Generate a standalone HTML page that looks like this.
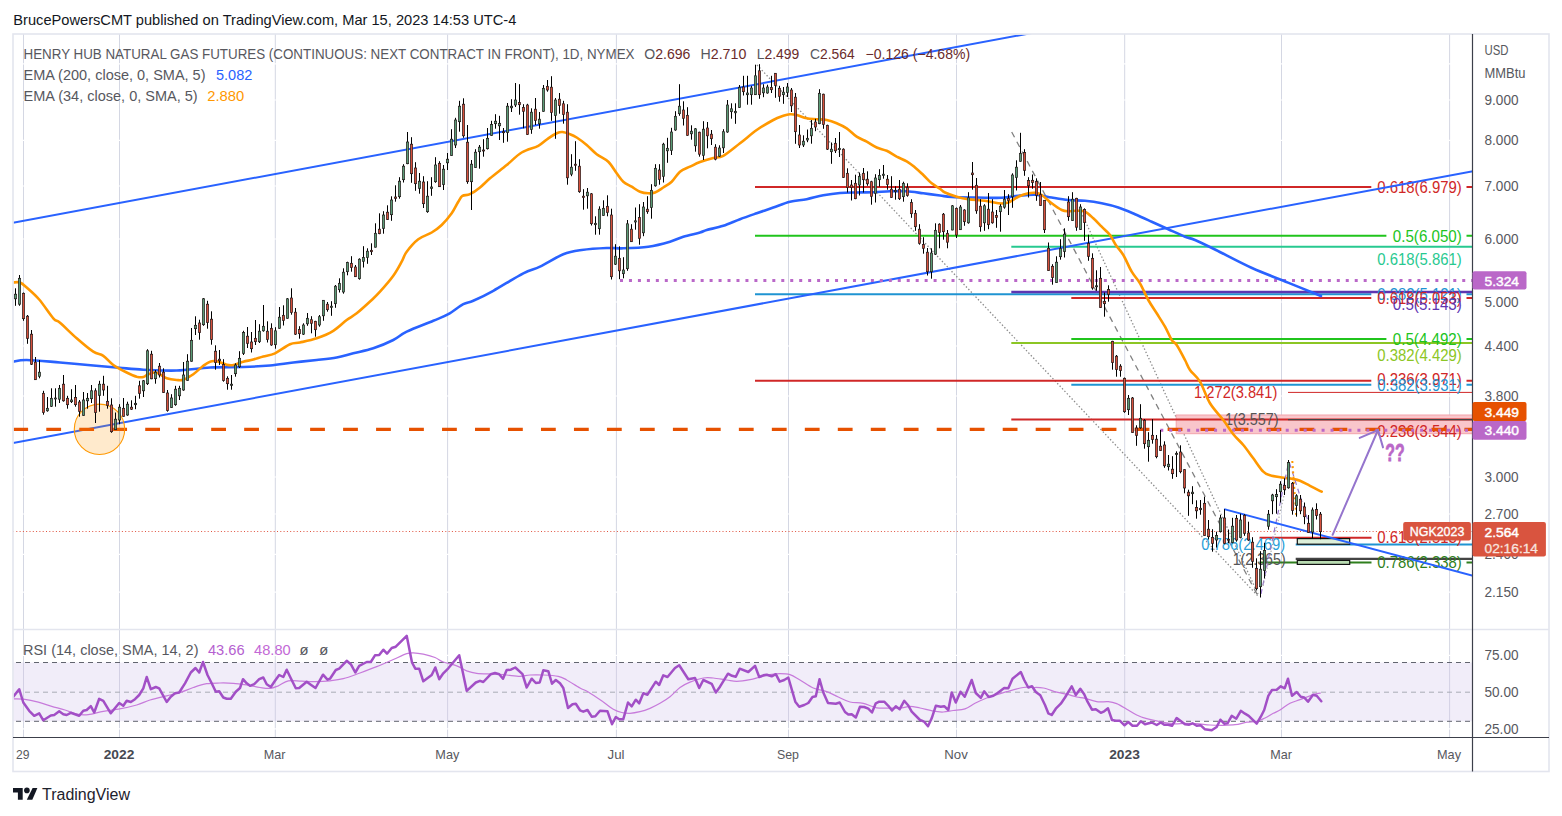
<!DOCTYPE html><html><head><meta charset="utf-8"><title>chart</title>
<style>html,body{margin:0;padding:0;background:#fff;}body{width:1562px;height:816px;overflow:hidden;font-family:"Liberation Sans", sans-serif;}svg{display:block;font-family:"Liberation Sans", sans-serif;}</style></head><body>
<svg width="1562" height="816" viewBox="0 0 1562 816">
<rect x="0" y="0" width="1562" height="816" fill="#ffffff"/>
<defs><clipPath id="main"><rect x="13.5" y="34.5" width="1459.0" height="595.0"/></clipPath>
<clipPath id="rsi"><rect x="13.5" y="630.0" width="1459.0" height="107.5"/></clipPath></defs>
<line x1="23.5" y1="34.0" x2="23.5" y2="737.5" stroke="#d4d7e3" stroke-width="1"/>
<line x1="119.5" y1="34.0" x2="119.5" y2="737.5" stroke="#d4d7e3" stroke-width="1"/>
<line x1="275.3" y1="34.0" x2="275.3" y2="737.5" stroke="#d4d7e3" stroke-width="1"/>
<line x1="447.6" y1="34.0" x2="447.6" y2="737.5" stroke="#d4d7e3" stroke-width="1"/>
<line x1="616.4" y1="34.0" x2="616.4" y2="737.5" stroke="#d4d7e3" stroke-width="1"/>
<line x1="788.5" y1="34.0" x2="788.5" y2="737.5" stroke="#d4d7e3" stroke-width="1"/>
<line x1="956.5" y1="34.0" x2="956.5" y2="737.5" stroke="#d4d7e3" stroke-width="1"/>
<line x1="1124.7" y1="34.0" x2="1124.7" y2="737.5" stroke="#d4d7e3" stroke-width="1"/>
<line x1="1281.5" y1="34.0" x2="1281.5" y2="737.5" stroke="#d4d7e3" stroke-width="1"/>
<line x1="1449.6" y1="34.0" x2="1449.6" y2="737.5" stroke="#d4d7e3" stroke-width="1"/>
<line x1="14.0" y1="63.8" x2="1472.5" y2="63.8" stroke="#ffffff" stroke-width="1.2"/>
<line x1="14.0" y1="100.0" x2="1472.5" y2="100.0" stroke="#ffffff" stroke-width="1.2"/>
<line x1="14.0" y1="140.3" x2="1472.5" y2="140.3" stroke="#ffffff" stroke-width="1.2"/>
<line x1="14.0" y1="186.0" x2="1472.5" y2="186.0" stroke="#ffffff" stroke-width="1.2"/>
<line x1="14.0" y1="239.0" x2="1472.5" y2="239.0" stroke="#ffffff" stroke-width="1.2"/>
<line x1="14.0" y1="302.0" x2="1472.5" y2="302.0" stroke="#ffffff" stroke-width="1.2"/>
<line x1="14.0" y1="346.0" x2="1472.5" y2="346.0" stroke="#ffffff" stroke-width="1.2"/>
<line x1="14.0" y1="396.0" x2="1472.5" y2="396.0" stroke="#ffffff" stroke-width="1.2"/>
<line x1="14.0" y1="477.0" x2="1472.5" y2="477.0" stroke="#ffffff" stroke-width="1.2"/>
<line x1="14.0" y1="514.0" x2="1472.5" y2="514.0" stroke="#ffffff" stroke-width="1.2"/>
<line x1="14.0" y1="554.4" x2="1472.5" y2="554.4" stroke="#ffffff" stroke-width="1.2"/>
<line x1="14.0" y1="592.2" x2="1472.5" y2="592.2" stroke="#ffffff" stroke-width="1.2"/>
<line x1="14.0" y1="655.3" x2="1472.5" y2="655.3" stroke="#ffffff" stroke-width="1.2"/>
<line x1="14.0" y1="728.9" x2="1472.5" y2="728.9" stroke="#ffffff" stroke-width="1.2"/>
<rect x="13.5" y="662.5" width="1459.0" height="58.8" fill="#f1edf9"/>
<line x1="23.5" y1="662.5" x2="23.5" y2="721.3" stroke="#d3d0e4" stroke-width="1"/>
<line x1="119.5" y1="662.5" x2="119.5" y2="721.3" stroke="#d3d0e4" stroke-width="1"/>
<line x1="275.3" y1="662.5" x2="275.3" y2="721.3" stroke="#d3d0e4" stroke-width="1"/>
<line x1="447.6" y1="662.5" x2="447.6" y2="721.3" stroke="#d3d0e4" stroke-width="1"/>
<line x1="616.4" y1="662.5" x2="616.4" y2="721.3" stroke="#d3d0e4" stroke-width="1"/>
<line x1="788.5" y1="662.5" x2="788.5" y2="721.3" stroke="#d3d0e4" stroke-width="1"/>
<line x1="956.5" y1="662.5" x2="956.5" y2="721.3" stroke="#d3d0e4" stroke-width="1"/>
<line x1="1124.7" y1="662.5" x2="1124.7" y2="721.3" stroke="#d3d0e4" stroke-width="1"/>
<line x1="1281.5" y1="662.5" x2="1281.5" y2="721.3" stroke="#d3d0e4" stroke-width="1"/>
<line x1="1449.6" y1="662.5" x2="1449.6" y2="721.3" stroke="#d3d0e4" stroke-width="1"/>
<line x1="16.0" y1="662.5" x2="1472.5" y2="662.5" stroke="#62656f" stroke-width="1" stroke-dasharray="5 4"/>
<line x1="16.0" y1="692.2" x2="1472.5" y2="692.2" stroke="#a9abb5" stroke-width="1" stroke-dasharray="5 4"/>
<line x1="16.0" y1="721.3" x2="1472.5" y2="721.3" stroke="#62656f" stroke-width="1" stroke-dasharray="5 4"/>
<g clip-path="url(#main)">
<line x1="757" y1="65" x2="1258" y2="596" stroke="#8a8a8a" stroke-width="1.3" stroke-dasharray="1.4 2.1"/>
<line x1="1011.7" y1="132" x2="1258" y2="596" stroke="#808080" stroke-width="1.3" stroke-dasharray="6 5"/>
<line x1="1081" y1="212" x2="1258" y2="594" stroke="#8a8a8a" stroke-width="1.3" stroke-dasharray="1.4 2.1"/>
<rect x="1176.2" y="415" width="300" height="18.7" fill="#f9c6cb" stroke="#f3a3ab" stroke-width="1"/>
<line x1="755.0" y1="187.0" x2="1371.3" y2="187.0" stroke="#d02727" stroke-width="2"/>
<line x1="1466.5" y1="187.0" x2="1473.0" y2="187.0" stroke="#d02727" stroke-width="2"/>
<line x1="755.0" y1="235.8" x2="1386.4" y2="235.8" stroke="#20c41c" stroke-width="2"/>
<line x1="1466.5" y1="235.8" x2="1473.0" y2="235.8" stroke="#20c41c" stroke-width="2"/>
<line x1="1011.3" y1="246.8" x2="1473.0" y2="246.8" stroke="#27c990" stroke-width="2"/>
<line x1="755.0" y1="294.2" x2="1371.3" y2="294.2" stroke="#1f94d2" stroke-width="2"/>
<line x1="1466.5" y1="294.2" x2="1473.0" y2="294.2" stroke="#1f94d2" stroke-width="2"/>
<line x1="1011.3" y1="292.0" x2="1473.0" y2="292.0" stroke="#5e35b1" stroke-width="2.4"/>
<line x1="1071.3" y1="297.9" x2="1371.3" y2="297.9" stroke="#d02727" stroke-width="2"/>
<line x1="1466.5" y1="297.9" x2="1473.0" y2="297.9" stroke="#d02727" stroke-width="2"/>
<line x1="1071.3" y1="339.0" x2="1386.4" y2="339.0" stroke="#20c41c" stroke-width="2"/>
<line x1="1466.5" y1="339.0" x2="1473.0" y2="339.0" stroke="#20c41c" stroke-width="2"/>
<line x1="1011.3" y1="342.9" x2="1473.0" y2="342.9" stroke="#8cc624" stroke-width="2"/>
<line x1="755.0" y1="380.8" x2="1371.3" y2="380.8" stroke="#d02727" stroke-width="2"/>
<line x1="1466.5" y1="380.8" x2="1473.0" y2="380.8" stroke="#d02727" stroke-width="2"/>
<line x1="1071.3" y1="384.8" x2="1371.3" y2="384.8" stroke="#1f94d2" stroke-width="2"/>
<line x1="1466.5" y1="384.8" x2="1473.0" y2="384.8" stroke="#1f94d2" stroke-width="2"/>
<line x1="1288.0" y1="392.4" x2="1473.0" y2="392.4" stroke="#d02727" stroke-width="1"/>
<line x1="1011.3" y1="419.6" x2="1473.0" y2="419.6" stroke="#d02727" stroke-width="2"/>
<line x1="1288.0" y1="419.6" x2="1473.0" y2="419.6" stroke="#444444" stroke-width="1.3"/>
<line x1="1259.5" y1="537.7" x2="1371.5" y2="537.7" stroke="#d02727" stroke-width="2"/>
<line x1="1295.7" y1="544.5" x2="1473.0" y2="544.5" stroke="#1f94d2" stroke-width="2"/>
<line x1="1295.7" y1="558.8" x2="1473.0" y2="558.8" stroke="#444444" stroke-width="2.2"/>
<line x1="1259.5" y1="562.6" x2="1371.5" y2="562.6" stroke="#2f7f1d" stroke-width="2"/>
<line x1="1466.5" y1="562.6" x2="1473.0" y2="562.6" stroke="#2f7f1d" stroke-width="2"/>
<text x="1461.8" y="192.8" font-size="16.5" fill="#d02727" text-anchor="end" font-weight="normal" textLength="84.6" lengthAdjust="spacingAndGlyphs" >0.618(6.979)</text>
<text x="1461.8" y="241.6" font-size="16.5" fill="#20c41c" text-anchor="end" font-weight="normal" textLength="69.0" lengthAdjust="spacingAndGlyphs" >0.5(6.050)</text>
<text x="1461.8" y="265.1" font-size="16.5" fill="#27c990" text-anchor="end" font-weight="normal" textLength="84.6" lengthAdjust="spacingAndGlyphs" >0.618(5.861)</text>
<text x="1461.8" y="300.0" font-size="16.5" fill="#1f94d2" text-anchor="end" font-weight="normal" textLength="84.6" lengthAdjust="spacingAndGlyphs" >0.382(5.121)</text>
<text x="1461.8" y="303.7" font-size="16.5" fill="#d02727" text-anchor="end" font-weight="normal" textLength="84.6" lengthAdjust="spacingAndGlyphs" >0.618(5.053)</text>
<text x="1461.8" y="310.4" font-size="16.5" fill="#5e35b1" text-anchor="end" font-weight="normal" textLength="69.0" lengthAdjust="spacingAndGlyphs" >0.5(5.143)</text>
<text x="1461.8" y="344.8" font-size="16.5" fill="#20c41c" text-anchor="end" font-weight="normal" textLength="69.0" lengthAdjust="spacingAndGlyphs" >0.5(4.492)</text>
<text x="1461.8" y="361.0" font-size="16.5" fill="#8cc624" text-anchor="end" font-weight="normal" textLength="84.6" lengthAdjust="spacingAndGlyphs" >0.382(4.429)</text>
<text x="1461.8" y="385.1" font-size="16.5" fill="#d02727" text-anchor="end" font-weight="normal" textLength="84.6" lengthAdjust="spacingAndGlyphs" >0.236(3.971)</text>
<text x="1461.8" y="390.8" font-size="16.5" fill="#1f94d2" text-anchor="end" font-weight="normal" textLength="84.6" lengthAdjust="spacingAndGlyphs" >0.382(3.931)</text>
<text x="1461.8" y="437.4" font-size="16.5" fill="#d02727" text-anchor="end" font-weight="normal" textLength="84.6" lengthAdjust="spacingAndGlyphs" >0.236(3.544)</text>
<text x="1461.8" y="543.1" font-size="16.5" fill="#d02727" text-anchor="end" font-weight="normal" textLength="84.6" lengthAdjust="spacingAndGlyphs" >0.618(2.513)</text>
<text x="1461.8" y="568.4" font-size="16.5" fill="#2f7f1d" text-anchor="end" font-weight="normal" textLength="84.6" lengthAdjust="spacingAndGlyphs" >0.786(2.338)</text>
<text x="1277.3" y="398.3" font-size="16.5" fill="#d02727" text-anchor="end" font-weight="normal" textLength="83.2" lengthAdjust="spacingAndGlyphs" >1.272(3.841)</text>
<text x="1278.5" y="424.9" font-size="16.5" fill="#555" text-anchor="end" font-weight="normal" textLength="53.6" lengthAdjust="spacingAndGlyphs" >1(3.557)</text>
<text x="1285.2" y="549.8" font-size="16.5" fill="#2b9fd9" text-anchor="end" font-weight="normal" textLength="84.0" lengthAdjust="spacingAndGlyphs" >0.786(2.469)</text>
<text x="1285.7" y="564.8" font-size="16.5" fill="#555" text-anchor="end" font-weight="normal" textLength="53.0" lengthAdjust="spacingAndGlyphs" >1(2.365)</text>
<line x1="13" y1="222.8" x2="1040" y2="31.5" stroke="#2962ff" stroke-width="2"/>
<line x1="13" y1="442.9" x2="1473" y2="171.2" stroke="#2962ff" stroke-width="2"/>
<rect x="1297.3" y="538.6" width="52.4" height="5.6" fill="#dcefd9" stroke="#111" stroke-width="1.2"/>
<rect x="1297.3" y="560.4" width="52.4" height="4.0" fill="#b9dcb2" stroke="#111" stroke-width="1.2"/>
<line x1="13.3" y1="429.4" x2="1473" y2="429.4" stroke="#e65100" stroke-width="3.2" stroke-dasharray="14.8 18.18"/>
<line x1="620" y1="280.4" x2="1473" y2="280.4" stroke="#ba68c8" stroke-width="3" stroke-dasharray="3 5.96"/>
<line x1="1160.3" y1="430.3" x2="1473" y2="430.3" stroke="#ba68c8" stroke-width="3" stroke-dasharray="3 5.96"/>
<circle cx="99.5" cy="429.3" r="25.2" fill="#ff9800" fill-opacity="0.2" stroke="#ff9800" stroke-width="1.1"/>
<line x1="13" y1="531.5" x2="1473" y2="531.5" stroke="#e0533f" stroke-width="1" stroke-dasharray="1 2.3"/>
<path d="M13.3 361.7 C15.5 361.4 18.9 359.9 26.7 360.0 C34.5 360.1 48.9 361.6 60.0 362.5 C71.1 363.4 83.4 364.6 93.3 365.5 C103.2 366.4 111.2 367.1 119.5 367.8 C127.8 368.5 133.8 369.2 143.3 369.7 C152.8 370.1 165.6 370.9 176.7 370.5 C187.8 370.1 198.9 368.1 210.0 367.5 C221.1 366.9 233.3 367.3 243.3 367.0 C253.3 366.7 261.7 366.2 270.0 365.5 C278.3 364.8 285.5 363.4 293.3 362.5 C301.1 361.6 309.5 360.8 316.7 360.0 C323.9 359.2 330.6 358.6 336.7 357.5 C342.8 356.4 347.2 354.8 353.3 353.3 C359.4 351.8 366.6 350.5 373.3 348.3 C380.0 346.1 387.7 342.8 393.3 340.0 C398.9 337.2 400.0 334.9 406.7 331.7 C413.4 328.5 426.4 323.7 433.3 320.8 C440.2 317.9 443.3 317.0 448.3 314.2 C453.3 311.4 459.1 306.4 463.3 304.2 C467.5 302.0 468.3 303.0 473.3 300.8 C478.3 298.6 485.0 295.4 493.3 290.8 C501.6 286.2 515.5 277.3 523.3 273.3 C531.1 269.3 533.3 269.9 540.0 266.7 C546.7 263.5 556.3 257.0 563.3 254.2 C570.2 251.4 574.5 251.0 581.7 250.0 C588.9 249.0 599.8 248.3 606.7 248.0 C613.6 247.7 616.4 248.5 623.3 248.3 C630.2 248.1 640.5 247.8 648.3 246.7 C656.1 245.6 664.2 243.4 670.0 241.7 C675.8 240.0 678.3 238.2 683.3 236.7 C688.3 235.2 696.1 233.6 700.0 232.5 C703.9 231.4 702.8 231.1 706.7 230.0 C710.6 228.9 717.8 227.6 723.3 225.8 C728.8 224.0 734.4 221.3 740.0 219.2 C745.6 217.1 751.2 215.2 756.7 213.3 C762.2 211.4 767.8 209.4 773.3 207.5 C778.8 205.6 784.4 203.1 790.0 201.7 C795.6 200.3 801.2 200.3 806.7 199.2 C812.2 198.1 817.8 196.3 823.3 195.3 C828.8 194.3 834.4 193.5 840.0 193.0 C845.6 192.5 851.2 192.6 856.7 192.5 C862.2 192.4 867.8 192.4 873.3 192.2 C878.8 192.0 884.4 191.5 890.0 191.3 C895.6 191.2 901.2 191.0 906.7 191.3 C912.2 191.6 917.8 192.6 923.3 193.3 C928.8 194.0 935.3 194.9 940.0 195.5 C944.7 196.1 945.6 196.7 951.7 197.0 C957.8 197.3 968.4 197.4 976.7 197.5 C985.0 197.6 994.8 198.1 1001.7 197.8 C1008.6 197.5 1012.8 196.3 1018.3 195.8 C1023.8 195.3 1029.4 194.4 1035.0 194.7 C1040.6 195.0 1046.2 196.6 1051.7 197.5 C1057.2 198.4 1062.8 199.4 1068.3 200.0 C1073.8 200.6 1079.4 200.2 1085.0 200.8 C1090.6 201.4 1096.2 202.2 1101.7 203.3 C1107.2 204.4 1112.8 205.7 1118.3 207.5 C1123.8 209.3 1129.4 211.8 1135.0 214.2 C1140.6 216.6 1146.2 219.2 1151.7 221.7 C1157.2 224.2 1162.8 226.7 1168.3 229.2 C1173.8 231.7 1180.5 234.9 1185.0 236.7 C1189.5 238.5 1189.8 237.8 1195.0 240.0 C1200.2 242.2 1206.5 245.3 1216.0 250.0 C1225.5 254.7 1240.0 262.6 1252.0 268.0 C1264.0 273.4 1276.5 277.9 1288.0 282.6 C1299.5 287.3 1315.5 293.8 1321.0 296.0" fill="none" stroke="#2962ff" stroke-width="2.6" stroke-linejoin="round" stroke-linecap="round"/>
<path d="M13.3 282.5 C14.4 282.5 17.8 281.7 20.0 282.5 C22.2 283.3 23.5 284.7 26.7 287.5 C29.9 290.3 34.8 294.4 39.2 299.5 C43.6 304.6 49.8 314.4 53.3 318.3 C56.8 322.2 56.1 319.5 60.0 322.8 C63.9 326.1 71.2 333.5 76.7 338.3 C82.2 343.1 88.9 348.8 93.3 351.7 C97.7 354.6 100.0 353.6 103.3 355.8 C106.6 358.0 109.4 362.2 113.3 365.0 C117.2 367.8 122.8 370.6 126.7 372.5 C130.6 374.4 133.9 375.9 136.7 376.7 C139.5 377.4 141.4 377.4 143.3 377.0 C145.2 376.6 146.1 375.0 148.3 374.3 C150.5 373.6 153.6 372.0 156.7 372.7 C159.8 373.4 163.4 377.1 166.7 378.3 C170.0 379.5 173.9 379.8 176.7 380.0 C179.5 380.2 180.5 380.7 183.3 379.7 C186.1 378.7 190.0 376.5 193.3 374.2 C196.6 371.9 200.5 367.9 203.3 365.8 C206.1 363.7 207.8 362.4 210.0 361.7 C212.2 360.9 213.9 360.8 216.7 361.3 C219.5 361.8 223.9 364.1 226.7 364.7 C229.5 365.3 230.5 365.5 233.3 365.0 C236.1 364.5 240.0 362.6 243.3 361.7 C246.6 360.8 250.0 360.4 253.3 359.5 C256.6 358.6 259.7 357.5 263.3 356.5 C266.9 355.5 270.6 355.4 275.0 353.3 C279.4 351.2 285.8 346.0 290.0 344.2 C294.2 342.4 295.6 343.5 300.0 342.5 C304.4 341.5 311.1 340.2 316.7 338.3 C322.2 336.4 328.3 333.9 333.3 330.8 C338.3 327.8 342.8 322.9 346.7 320.0 C350.6 317.1 352.5 316.6 356.7 313.3 C360.9 310.0 367.8 303.6 371.7 300.0 C375.6 296.4 376.4 295.7 380.0 291.7 C383.6 287.7 389.7 280.8 393.3 275.8 C396.9 270.8 399.5 265.7 401.7 261.7 C403.9 257.7 403.9 255.4 406.7 251.7 C409.5 247.9 414.1 242.4 418.3 239.2 C422.5 236.0 427.8 234.9 431.7 232.5 C435.6 230.1 438.4 228.2 441.7 225.0 C445.0 221.8 448.9 217.2 451.7 213.3 C454.5 209.4 456.5 204.6 458.3 201.7 C460.1 198.8 460.6 197.1 462.5 195.8 C464.4 194.6 467.1 195.6 470.0 194.2 C472.9 192.8 476.7 190.2 480.0 187.5 C483.3 184.8 485.6 182.1 490.0 178.3 C494.4 174.6 501.4 169.3 506.7 165.0 C512.0 160.7 516.4 155.7 521.7 152.5 C527.0 149.3 533.9 148.2 538.3 145.8 C542.7 143.4 545.2 140.4 548.3 138.3 C551.4 136.2 554.3 134.4 556.7 133.3 C559.1 132.2 560.3 131.8 562.5 132.0 C564.7 132.2 567.6 133.3 570.0 134.2 C572.4 135.1 573.9 135.7 576.7 137.5 C579.5 139.3 583.4 142.2 586.7 145.0 C590.0 147.8 593.1 151.4 596.7 154.2 C600.3 157.0 605.0 158.5 608.3 161.7 C611.6 164.9 614.2 170.0 616.7 173.3 C619.2 176.6 620.8 179.5 623.3 181.7 C625.8 183.9 628.9 185.0 631.7 186.7 C634.5 188.4 637.2 190.6 640.0 191.7 C642.8 192.8 645.8 193.2 648.3 193.3 C650.8 193.4 652.5 193.5 655.0 192.5 C657.5 191.5 660.5 189.3 663.3 187.5 C666.1 185.7 668.9 184.3 671.7 181.7 C674.5 179.1 677.0 174.2 680.0 171.7 C683.0 169.2 686.7 168.3 690.0 166.7 C693.3 165.1 696.1 163.4 700.0 162.0 C703.9 160.6 709.4 159.0 713.3 158.0 C717.2 157.0 718.8 158.2 723.3 155.8 C727.8 153.4 734.4 147.6 740.0 143.3 C745.6 139.0 751.2 133.9 756.7 130.0 C762.2 126.1 768.9 122.4 773.3 120.0 C777.7 117.6 780.5 116.8 783.3 115.8 C786.1 114.8 787.8 114.3 790.0 114.2 C792.2 114.1 793.9 114.3 796.7 115.0 C799.5 115.7 803.4 117.6 806.7 118.3 C810.0 119.0 813.4 118.9 816.7 119.2 C820.0 119.5 823.4 119.3 826.7 120.0 C830.0 120.7 833.4 121.9 836.7 123.3 C840.0 124.7 843.4 126.1 846.7 128.3 C850.0 130.5 853.4 134.5 856.7 136.7 C860.0 138.9 863.4 139.9 866.7 141.7 C870.0 143.5 873.4 146.0 876.7 147.5 C880.0 149.0 883.4 149.3 886.7 150.8 C890.0 152.3 893.4 154.9 896.7 156.7 C900.0 158.4 903.7 159.5 906.7 161.3 C909.8 163.1 912.2 165.2 915.0 167.5 C917.8 169.8 920.5 172.4 923.3 175.0 C926.1 177.6 928.9 181.0 931.7 183.3 C934.5 185.6 937.8 187.2 940.0 188.7 C942.2 190.2 942.2 191.2 945.0 192.5 C947.8 193.8 952.8 195.6 956.7 196.7 C960.6 197.8 963.6 198.5 968.3 199.2 C973.0 199.9 980.0 200.1 985.0 200.8 C990.0 201.5 994.4 203.0 998.3 203.3 C1002.2 203.6 1005.0 203.6 1008.3 202.5 C1011.6 201.4 1015.0 198.2 1018.3 196.7 C1021.6 195.2 1025.5 194.0 1028.3 193.3 C1031.1 192.7 1032.8 192.5 1035.0 192.8 C1037.2 193.1 1038.9 193.2 1041.7 195.0 C1044.5 196.8 1048.4 200.8 1051.7 203.3 C1055.0 205.8 1058.9 208.7 1061.7 210.0 C1064.5 211.3 1065.8 211.2 1068.3 211.3 C1070.8 211.4 1073.9 210.7 1076.7 210.8 C1079.5 210.9 1082.2 210.4 1085.0 211.7 C1087.8 212.9 1090.5 215.8 1093.3 218.3 C1096.1 220.8 1098.9 223.9 1101.7 226.7 C1104.5 229.5 1107.7 231.9 1110.0 235.0 C1112.3 238.1 1113.6 241.7 1115.8 245.0 C1118.0 248.3 1120.6 250.6 1123.3 255.0 C1126.0 259.4 1128.9 267.0 1131.7 271.7 C1134.5 276.4 1137.2 278.6 1140.0 283.3 C1142.8 288.0 1145.5 295.0 1148.3 300.0 C1151.1 305.0 1153.9 308.9 1156.7 313.3 C1159.5 317.8 1162.5 322.2 1165.0 326.7 C1167.5 331.1 1169.8 336.9 1171.7 340.0 C1173.7 343.1 1174.5 341.7 1176.7 345.0 C1178.9 348.3 1182.8 355.8 1185.0 360.0 C1187.2 364.2 1187.5 366.4 1190.0 370.0 C1192.5 373.6 1196.7 376.1 1200.0 381.7 C1203.3 387.2 1206.1 396.9 1210.0 403.3 C1213.9 409.7 1219.4 414.9 1223.3 420.0 C1227.2 425.1 1230.0 430.0 1233.3 434.2 C1236.6 438.4 1240.0 441.0 1243.3 445.0 C1246.6 449.0 1250.0 453.9 1253.3 458.3 C1256.6 462.8 1260.5 468.9 1263.3 471.7 C1266.1 474.5 1266.9 474.3 1270.0 475.3 C1273.1 476.3 1278.1 476.9 1281.7 477.5 C1285.3 478.1 1288.7 478.2 1291.7 478.8 C1294.8 479.4 1297.0 479.6 1300.0 480.8 C1303.0 482.0 1306.4 484.0 1310.0 485.8 C1313.6 487.6 1319.8 490.7 1321.7 491.7" fill="none" stroke="#ff9800" stroke-width="2.6" stroke-linejoin="round" stroke-linecap="round"/>
<line x1="1261" y1="594" x2="1288.5" y2="463" stroke="#9575cd" stroke-width="1.2" stroke-dasharray="5 4"/>
<line x1="1263" y1="586" x2="1286" y2="487" stroke="#a0a0a0" stroke-width="1.1" stroke-dasharray="1.3 2.2"/>
<line x1="1289.5" y1="463" x2="1309" y2="524" stroke="#9575cd" stroke-width="1.2" stroke-dasharray="5 4"/>
<line x1="1292.3" y1="461" x2="1296.3" y2="516" stroke="#ff9800" stroke-width="2" stroke-dasharray="2 3.2"/>
<line x1="1224.1" y1="509.1" x2="1473" y2="575.9" stroke="#2962ff" stroke-width="2"/>
<g stroke="#9575cd" stroke-width="2" fill="none" stroke-linecap="round"><line x1="1332.6" y1="534.8" x2="1378" y2="430"/><path d="M1359.7 437.9 L1378 430 L1383 447.4"/></g>
<path d="M15.5 288.3V305.8M19.5 275.0V305.8M23.5 292.5V320.8M27.5 315.0V343.8M31.5 330.0V365.0M35.5 357.0V380.0M39.5 360.0V378.3M43.5 390.8V414.7M47.5 397.0V411.7M51.5 388.3V407.0M55.5 388.3V406.7M59.5 385.0V403.0M63.5 375.0V401.7M67.5 395.8V408.7M71.5 389.2V403.0M75.5 385.0V406.7M79.5 400.0V416.7M83.5 392.0V415.8M87.5 393.0V408.7M91.5 385.0V403.0M95.5 388.3V423.0M99.5 380.8V411.7M103.5 375.8V395.8M107.5 385.8V408.7M111.5 398.3V432.8M115.5 412.5V430.0M119.5 404.2V424.2M123.5 398.0V416.7M127.5 401.7V415.8M131.5 400.3V410.0M135.5 395.8V409.2M139.5 380.8V398.7M143.5 380.0V397.0M147.5 349.2V385.0M151.5 350.8V379.2M155.5 370.0V383.7M159.5 363.0V377.5M163.5 368.3V393.0M167.5 390.0V411.7M171.5 394.2V408.0M175.5 385.8V405.8M179.5 385.8V400.0M183.5 362.0V390.8M187.5 354.2V380.8M191.5 328.0V361.7M195.5 316.3V335.0M199.5 319.7V339.7M203.5 298.0V325.8M207.5 300.8V328.7M211.5 311.3V344.7M215.5 345.3V369.7M219.5 350.0V365.0M223.5 359.2V381.7M227.5 376.3V389.7M231.5 375.0V389.7M235.5 363.3V376.7M239.5 351.2V368.0M243.5 330.8V355.0M247.5 327.0V348.0M251.5 332.0V352.5M255.5 320.0V345.0M259.5 324.2V343.0M263.5 305.0V331.7M267.5 321.3V342.5M271.5 323.3V345.8M275.5 327.2V348.7M279.5 307.0V328.7M283.5 305.3V325.5M287.5 298.0V318.7M291.5 288.3V314.7M295.5 308.0V335.0M299.5 326.2V338.7M303.5 323.3V335.0M307.5 313.0V325.8M311.5 316.2V333.3M315.5 320.8V336.7M319.5 315.0V326.7M323.5 300.0V320.8M327.5 302.0V311.7M331.5 301.2V315.8M335.5 285.0V307.8M339.5 278.3V292.5M343.5 268.3V293.7M347.5 261.7V275.3M351.5 256.2V271.7M355.5 265.0V277.0M359.5 258.3V279.7M363.5 246.2V267.5M367.5 248.3V263.8M371.5 243.3V255.0M375.5 223.3V247.5M379.5 213.3V234.2M383.5 211.2V233.7M387.5 205.3V220.0M391.5 196.3V220.8M395.5 185.3V201.7M399.5 177.2V198.7M403.5 164.2V182.5M407.5 132.0V164.2M411.5 137.2V182.8M415.5 162.2V190.8M419.5 173.0V193.7M423.5 176.2V208.0M427.5 181.2V212.8M431.5 177.2V195.8M435.5 157.2V182.8M439.5 161.2V187.0M443.5 165.0V190.0M447.5 153.0V170.0M451.5 129.2V155.8M455.5 117.8V148.0M459.5 100.8V131.7M463.5 98.3V137.8M467.5 125.0V183.8M471.5 160.0V210.0M475.5 149.2V167.8M479.5 145.0V168.7M483.5 139.2V156.7M487.5 128.0V149.5M491.5 120.8V135.8M495.5 114.2V128.7M499.5 115.8V140.0M503.5 128.0V142.8M507.5 103.0V141.7M511.5 99.2V112.0M515.5 83.0V107.0M519.5 84.2V114.7M523.5 104.2V128.3M527.5 103.8V135.0M531.5 108.3V133.8M535.5 98.0V125.0M539.5 112.0V128.7M543.5 85.0V111.7M547.5 80.0V91.7M551.5 76.2V120.8M555.5 98.0V138.8M559.5 93.0V113.7M563.5 100.8V123.7M567.5 104.2V184.7M571.5 154.2V176.2M575.5 141.2V170.8M579.5 159.2V192.8M583.5 189.2V209.7M587.5 188.0V208.7M591.5 193.0V225.5M595.5 216.3V234.7M599.5 206.3V234.7M603.5 200.3V215.8M607.5 195.3V216.3M611.5 208.7V279.5M615.5 244.2V265.0M619.5 246.3V279.2M623.5 257.2V278.3M627.5 220.0V270.8M631.5 224.2V242.0M635.5 207.5V229.7M639.5 204.2V244.7M643.5 202.0V236.2M647.5 196.2V213.8M651.5 184.2V218.7M655.5 164.2V186.7M659.5 164.2V184.7M663.5 142.8V182.5M667.5 137.8V162.8M671.5 127.8V155.0M675.5 111.2V130.8M679.5 84.2V115.8M683.5 101.3V125.5M687.5 107.2V135.8M691.5 125.3V139.7M695.5 128.0V151.7M699.5 131.7V156.7M703.5 121.2V160.0M707.5 122.0V148.3M711.5 130.0V145.0M715.5 144.2V160.3M719.5 145.3V157.0M723.5 129.2V153.0M727.5 100.0V132.8M731.5 103.3V118.7M735.5 103.3V123.8M739.5 85.0V108.0M743.5 75.8V95.5M747.5 75.8V104.7M751.5 85.8V104.7M755.5 64.7V95.0M759.5 64.2V98.8M763.5 84.2V97.2M767.5 84.7V93.7M771.5 75.8V93.0M775.5 73.0V97.8M779.5 85.8V101.7M783.5 87.0V103.8M787.5 83.0V97.0M791.5 88.0V112.0M795.5 93.0V143.8M799.5 125.0V148.0M803.5 135.3V147.0M807.5 129.5V142.2M811.5 120.0V143.7M815.5 118.8V131.2M819.5 89.2V124.2M823.5 93.7V128.8M827.5 124.7V150.0M831.5 142.5V163.8M835.5 138.0V153.0M839.5 132.0V157.0M843.5 148.3V178.0M847.5 168.3V192.5M851.5 180.0V200.5M855.5 174.7V199.2M859.5 172.5V195.5M863.5 168.0V192.5M867.5 171.3V185.8M871.5 180.8V204.7M875.5 174.2V202.5M879.5 169.2V186.7M883.5 165.0V178.7M887.5 175.0V189.7M891.5 176.2V198.0M895.5 186.3V199.7M899.5 180.0V200.0M903.5 181.7V201.7M907.5 183.3V196.7M911.5 199.2V217.8M915.5 210.0V230.8M919.5 224.2V244.7M923.5 237.2V253.7M927.5 248.0V275.5M931.5 248.3V278.7M935.5 223.3V255.0M939.5 223.3V248.3M943.5 213.0V239.7M947.5 230.0V248.3M952.5 205.0V230.3M956.5 207.5V238.0M960.5 205.0V230.0M964.5 209.2V225.8M968.5 192.2V223.7M972.5 162.0V189.7M976.5 178.0V213.8M980.5 199.2V231.7M984.5 204.2V230.8M988.5 193.0V229.2M992.5 199.2V223.7M996.5 210.0V227.8M1000.5 204.2V231.7M1004.5 190.0V208.7M1008.5 194.2V215.0M1012.5 173.3V207.8M1016.5 160.3V190.5M1020.5 132.8V161.7M1024.5 149.2V175.8M1028.5 177.2V197.5M1032.5 174.5V188.7M1036.5 178.3V200.8M1040.5 182.0V205.8M1044.5 200.0V233.0M1048.5 242.5V270.8M1052.5 264.2V284.7M1056.5 256.3V282.8M1060.5 239.2V259.7M1064.5 228.3V257.5M1068.5 196.2V220.8M1072.5 192.2V220.8M1076.5 197.8V230.8M1080.5 204.2V230.0M1084.5 208.3V240.8M1088.5 234.7V260.8M1092.5 253.3V289.7M1096.5 270.3V290.8M1100.5 267.0V307.8M1104.5 292.5V316.7M1108.5 285.3V301.7M1112.5 340.8V369.7M1116.5 355.0V376.7M1120.5 364.2V376.7M1124.5 377.5V412.8M1128.5 395.0V415.0M1132.5 397.0V432.8M1136.5 425.3V445.8M1140.5 404.2V428.8M1144.5 419.2V448.7M1148.5 432.2V461.7M1152.5 419.2V443.7M1156.5 435.0V458.3M1160.5 430.0V450.8M1164.5 441.3V467.8M1168.5 455.0V470.5M1172.5 456.2V478.8M1176.5 451.3V477.0M1180.5 445.3V473.3M1184.5 469.2V493.3M1188.5 489.7V515.8M1192.5 486.2V504.2M1196.5 500.3V518.7M1200.5 500.0V514.7M1204.5 496.7V535.8M1208.5 520.0V539.5M1212.5 529.2V551.7M1216.5 531.7V547.5M1220.5 515.0V532.5M1224.5 509.2V544.2M1228.5 529.7V543.3M1232.5 517.8V543.3M1236.5 515.0V541.7M1240.5 513.7V538.3M1244.5 514.2V535.8M1248.5 521.7V540.8M1252.5 537.2V567.8M1256.5 558.3V590.0M1260.5 551.2V597.5M1264.5 542.8V578.3M1268.5 510.0V529.7M1272.5 493.8V514.2M1276.5 489.2V513.7M1280.5 481.2V502.5M1284.5 478.3V495.0M1288.5 460.0V488.7M1292.5 482.0V514.7M1296.5 494.2V516.7M1300.5 495.0V514.2M1304.5 502.5V524.2M1308.5 515.0V533.0M1312.5 507.5V538.3M1316.5 503.3V519.5M1320.5 512.0V539.2" stroke="#000" stroke-width="1" fill="none"/>
<g stroke="#231a1a" stroke-width="0.7"><rect x="14.35" y="294.2" width="2.3" height="4.6" fill="#5a9b76"/><rect x="18.35" y="278.3" width="2.3" height="25.9" fill="#5a9b76"/><rect x="22.35" y="293.3" width="2.3" height="25.4" fill="#d6503c"/><rect x="26.35" y="316.2" width="2.3" height="22.1" fill="#d6503c"/><rect x="30.35" y="334.2" width="2.3" height="30.0" fill="#d6503c"/><rect x="34.35" y="362.2" width="2.3" height="17.5" fill="#d6503c"/><rect x="38.35" y="372.2" width="2.3" height="4.1" fill="#5a9b76"/><rect x="42.35" y="393.3" width="2.3" height="19.2" fill="#d6503c"/><rect x="46.35" y="408.3" width="2.3" height="2.5" fill="#5a9b76"/><rect x="50.35" y="398.3" width="2.3" height="8.0" fill="#5a9b76"/><rect x="54.35" y="398.0" width="2.3" height="1.0" fill="#5a9b76"/><rect x="58.35" y="388.3" width="2.3" height="10.9" fill="#5a9b76"/><rect x="62.35" y="384.2" width="2.3" height="16.6" fill="#d6503c"/><rect x="66.35" y="398.3" width="2.3" height="6.4" fill="#d6503c"/><rect x="70.35" y="400.0" width="2.3" height="1.7" fill="#5a9b76"/><rect x="74.35" y="397.5" width="2.3" height="7.2" fill="#d6503c"/><rect x="78.35" y="402.0" width="2.3" height="9.3" fill="#d6503c"/><rect x="82.35" y="400.0" width="2.3" height="15.3" fill="#5a9b76"/><rect x="86.35" y="398.3" width="2.3" height="2.5" fill="#5a9b76"/><rect x="90.35" y="390.8" width="2.3" height="7.9" fill="#5a9b76"/><rect x="94.35" y="390.8" width="2.3" height="21.7" fill="#d6503c"/><rect x="98.35" y="384.2" width="2.3" height="11.1" fill="#5a9b76"/><rect x="102.35" y="384.2" width="2.3" height="5.8" fill="#d6503c"/><rect x="106.35" y="401.3" width="2.3" height="4.0" fill="#d6503c"/><rect x="110.35" y="405.0" width="2.3" height="26.7" fill="#d6503c"/><rect x="114.35" y="419.2" width="2.3" height="10.5" fill="#5a9b76"/><rect x="118.35" y="407.2" width="2.3" height="12.8" fill="#5a9b76"/><rect x="122.35" y="408.3" width="2.3" height="8.0" fill="#d6503c"/><rect x="126.35" y="404.2" width="2.3" height="10.8" fill="#5a9b76"/><rect x="130.35" y="407.2" width="2.3" height="2.0" fill="#d6503c"/><rect x="134.35" y="403.3" width="2.3" height="1.4" fill="#5a9b76"/><rect x="138.35" y="385.8" width="2.3" height="7.5" fill="#d6503c"/><rect x="142.35" y="380.8" width="2.3" height="10.0" fill="#5a9b76"/><rect x="146.35" y="350.8" width="2.3" height="32.9" fill="#5a9b76"/><rect x="150.35" y="354.2" width="2.3" height="24.6" fill="#d6503c"/><rect x="154.35" y="372.2" width="2.3" height="6.5" fill="#5a9b76"/><rect x="158.35" y="366.2" width="2.3" height="8.8" fill="#d6503c"/><rect x="162.35" y="372.2" width="2.3" height="20.3" fill="#d6503c"/><rect x="166.35" y="393.0" width="2.3" height="17.5" fill="#d6503c"/><rect x="170.35" y="398.0" width="2.3" height="9.5" fill="#5a9b76"/><rect x="174.35" y="389.2" width="2.3" height="15.5" fill="#5a9b76"/><rect x="178.35" y="388.3" width="2.3" height="7.5" fill="#5a9b76"/><rect x="182.35" y="375.0" width="2.3" height="15.0" fill="#5a9b76"/><rect x="186.35" y="361.2" width="2.3" height="19.1" fill="#5a9b76"/><rect x="190.35" y="340.3" width="2.3" height="20.9" fill="#5a9b76"/><rect x="194.35" y="325.3" width="2.3" height="3.4" fill="#5a9b76"/><rect x="198.35" y="323.0" width="2.3" height="9.5" fill="#d6503c"/><rect x="202.35" y="298.8" width="2.3" height="25.9" fill="#5a9b76"/><rect x="206.35" y="304.2" width="2.3" height="18.3" fill="#d6503c"/><rect x="210.35" y="319.2" width="2.3" height="20.3" fill="#d6503c"/><rect x="214.35" y="351.2" width="2.3" height="11.3" fill="#d6503c"/><rect x="218.35" y="359.2" width="2.3" height="1.6" fill="#d6503c"/><rect x="222.35" y="364.5" width="2.3" height="16.0" fill="#d6503c"/><rect x="226.35" y="378.3" width="2.3" height="5.4" fill="#d6503c"/><rect x="230.35" y="384.2" width="2.3" height="1.1" fill="#5a9b76"/><rect x="234.35" y="365.0" width="2.3" height="8.7" fill="#5a9b76"/><rect x="238.35" y="358.3" width="2.3" height="8.4" fill="#5a9b76"/><rect x="242.35" y="332.5" width="2.3" height="20.8" fill="#5a9b76"/><rect x="246.35" y="336.2" width="2.3" height="7.1" fill="#d6503c"/><rect x="250.35" y="342.0" width="2.3" height="6.7" fill="#d6503c"/><rect x="254.35" y="338.3" width="2.3" height="3.4" fill="#d6503c"/><rect x="258.35" y="331.2" width="2.3" height="10.5" fill="#5a9b76"/><rect x="262.35" y="326.3" width="2.3" height="4.5" fill="#5a9b76"/><rect x="266.35" y="331.2" width="2.3" height="8.3" fill="#d6503c"/><rect x="270.35" y="328.3" width="2.3" height="16.7" fill="#d6503c"/><rect x="274.35" y="330.8" width="2.3" height="13.9" fill="#5a9b76"/><rect x="278.35" y="317.2" width="2.3" height="11.1" fill="#5a9b76"/><rect x="282.35" y="315.3" width="2.3" height="5.2" fill="#d6503c"/><rect x="286.35" y="298.8" width="2.3" height="19.5" fill="#5a9b76"/><rect x="290.35" y="298.0" width="2.3" height="14.5" fill="#d6503c"/><rect x="294.35" y="312.2" width="2.3" height="22.0" fill="#d6503c"/><rect x="298.35" y="329.5" width="2.3" height="4.2" fill="#d6503c"/><rect x="302.35" y="325.0" width="2.3" height="9.2" fill="#5a9b76"/><rect x="306.35" y="318.3" width="2.3" height="5.5" fill="#5a9b76"/><rect x="310.35" y="319.7" width="2.3" height="3.6" fill="#d6503c"/><rect x="314.35" y="321.3" width="2.3" height="8.4" fill="#d6503c"/><rect x="318.35" y="316.7" width="2.3" height="8.3" fill="#5a9b76"/><rect x="322.35" y="300.3" width="2.3" height="15.5" fill="#5a9b76"/><rect x="326.35" y="304.2" width="2.3" height="5.5" fill="#d6503c"/><rect x="330.35" y="306.2" width="2.3" height="1.3" fill="#5a9b76"/><rect x="334.35" y="286.2" width="2.3" height="17.5" fill="#5a9b76"/><rect x="338.35" y="283.3" width="2.3" height="6.4" fill="#5a9b76"/><rect x="342.35" y="272.2" width="2.3" height="19.8" fill="#5a9b76"/><rect x="346.35" y="262.5" width="2.3" height="9.2" fill="#5a9b76"/><rect x="350.35" y="263.3" width="2.3" height="4.2" fill="#d6503c"/><rect x="354.35" y="267.0" width="2.3" height="9.7" fill="#d6503c"/><rect x="358.35" y="259.2" width="2.3" height="19.5" fill="#5a9b76"/><rect x="362.35" y="257.5" width="2.3" height="3.8" fill="#5a9b76"/><rect x="366.35" y="251.2" width="2.3" height="6.3" fill="#5a9b76"/><rect x="370.35" y="250.3" width="2.3" height="1.4" fill="#d6503c"/><rect x="374.35" y="233.3" width="2.3" height="13.9" fill="#5a9b76"/><rect x="378.35" y="229.2" width="2.3" height="4.5" fill="#d6503c"/><rect x="382.35" y="215.0" width="2.3" height="13.3" fill="#5a9b76"/><rect x="386.35" y="212.2" width="2.3" height="7.3" fill="#d6503c"/><rect x="390.35" y="200.0" width="2.3" height="14.7" fill="#5a9b76"/><rect x="394.35" y="197.0" width="2.3" height="1.3" fill="#d6503c"/><rect x="398.35" y="181.2" width="2.3" height="15.5" fill="#5a9b76"/><rect x="402.35" y="166.2" width="2.3" height="13.5" fill="#5a9b76"/><rect x="406.35" y="142.0" width="2.3" height="21.7" fill="#5a9b76"/><rect x="410.35" y="144.2" width="2.3" height="29.5" fill="#d6503c"/><rect x="414.35" y="168.0" width="2.3" height="15.7" fill="#d6503c"/><rect x="418.35" y="181.2" width="2.3" height="7.1" fill="#5a9b76"/><rect x="422.35" y="182.0" width="2.3" height="21.7" fill="#d6503c"/><rect x="426.35" y="196.2" width="2.3" height="15.5" fill="#5a9b76"/><rect x="430.35" y="187.0" width="2.3" height="1.3" fill="#5a9b76"/><rect x="434.35" y="165.0" width="2.3" height="16.7" fill="#5a9b76"/><rect x="438.35" y="163.3" width="2.3" height="23.4" fill="#d6503c"/><rect x="442.35" y="169.2" width="2.3" height="15.3" fill="#5a9b76"/><rect x="446.35" y="159.2" width="2.3" height="3.6" fill="#5a9b76"/><rect x="450.35" y="139.2" width="2.3" height="16.3" fill="#5a9b76"/><rect x="454.35" y="120.0" width="2.3" height="25.0" fill="#5a9b76"/><rect x="458.35" y="106.2" width="2.3" height="15.5" fill="#5a9b76"/><rect x="462.35" y="104.2" width="2.3" height="31.6" fill="#d6503c"/><rect x="466.35" y="142.2" width="2.3" height="39.5" fill="#d6503c"/><rect x="470.35" y="164.2" width="2.3" height="17.5" fill="#5a9b76"/><rect x="474.35" y="152.2" width="2.3" height="15.3" fill="#5a9b76"/><rect x="478.35" y="147.2" width="2.3" height="4.5" fill="#5a9b76"/><rect x="482.35" y="150.0" width="2.3" height="1.0" fill="#d6503c"/><rect x="486.35" y="138.3" width="2.3" height="10.4" fill="#5a9b76"/><rect x="490.35" y="124.5" width="2.3" height="10.8" fill="#5a9b76"/><rect x="494.35" y="121.2" width="2.3" height="2.5" fill="#5a9b76"/><rect x="498.35" y="123.3" width="2.3" height="2.5" fill="#5a9b76"/><rect x="502.35" y="131.7" width="2.3" height="1.0" fill="#d6503c"/><rect x="506.35" y="106.2" width="2.3" height="26.3" fill="#5a9b76"/><rect x="510.35" y="106.2" width="2.3" height="1.6" fill="#5a9b76"/><rect x="514.35" y="100.0" width="2.3" height="5.0" fill="#5a9b76"/><rect x="518.35" y="102.5" width="2.3" height="2.2" fill="#d6503c"/><rect x="522.35" y="107.5" width="2.3" height="3.8" fill="#d6503c"/><rect x="526.35" y="105.0" width="2.3" height="29.5" fill="#d6503c"/><rect x="530.35" y="112.2" width="2.3" height="17.3" fill="#5a9b76"/><rect x="534.35" y="109.2" width="2.3" height="11.3" fill="#d6503c"/><rect x="538.35" y="119.2" width="2.3" height="4.6" fill="#5a9b76"/><rect x="542.35" y="88.3" width="2.3" height="23.0" fill="#5a9b76"/><rect x="546.35" y="86.3" width="2.3" height="3.7" fill="#d6503c"/><rect x="550.35" y="87.2" width="2.3" height="25.3" fill="#d6503c"/><rect x="554.35" y="100.0" width="2.3" height="15.5" fill="#5a9b76"/><rect x="558.35" y="99.2" width="2.3" height="6.3" fill="#d6503c"/><rect x="562.35" y="103.8" width="2.3" height="10.7" fill="#d6503c"/><rect x="566.35" y="112.2" width="2.3" height="65.6" fill="#d6503c"/><rect x="570.35" y="167.2" width="2.3" height="7.0" fill="#5a9b76"/><rect x="574.35" y="164.2" width="2.3" height="1.1" fill="#d6503c"/><rect x="578.35" y="166.2" width="2.3" height="25.5" fill="#d6503c"/><rect x="582.35" y="196.2" width="2.3" height="1.3" fill="#d6503c"/><rect x="586.35" y="192.2" width="2.3" height="3.6" fill="#5a9b76"/><rect x="590.35" y="193.8" width="2.3" height="29.9" fill="#d6503c"/><rect x="594.35" y="223.3" width="2.3" height="1.4" fill="#5a9b76"/><rect x="598.35" y="209.2" width="2.3" height="19.5" fill="#5a9b76"/><rect x="602.35" y="208.3" width="2.3" height="7.2" fill="#5a9b76"/><rect x="606.35" y="206.3" width="2.3" height="6.2" fill="#d6503c"/><rect x="610.35" y="215.0" width="2.3" height="61.7" fill="#d6503c"/><rect x="614.35" y="256.2" width="2.3" height="8.0" fill="#5a9b76"/><rect x="618.35" y="258.3" width="2.3" height="12.5" fill="#d6503c"/><rect x="622.35" y="270.0" width="2.3" height="3.7" fill="#5a9b76"/><rect x="626.35" y="223.8" width="2.3" height="44.9" fill="#5a9b76"/><rect x="630.35" y="229.2" width="2.3" height="12.5" fill="#d6503c"/><rect x="634.35" y="220.8" width="2.3" height="1.2" fill="#5a9b76"/><rect x="638.35" y="217.5" width="2.3" height="20.8" fill="#d6503c"/><rect x="642.35" y="207.0" width="2.3" height="25.8" fill="#5a9b76"/><rect x="646.35" y="209.2" width="2.3" height="2.5" fill="#d6503c"/><rect x="650.35" y="190.3" width="2.3" height="17.2" fill="#5a9b76"/><rect x="654.35" y="168.3" width="2.3" height="17.5" fill="#5a9b76"/><rect x="658.35" y="170.0" width="2.3" height="9.5" fill="#d6503c"/><rect x="662.35" y="144.2" width="2.3" height="32.1" fill="#5a9b76"/><rect x="666.35" y="148.3" width="2.3" height="2.5" fill="#5a9b76"/><rect x="670.35" y="132.0" width="2.3" height="18.5" fill="#5a9b76"/><rect x="674.35" y="116.3" width="2.3" height="13.7" fill="#5a9b76"/><rect x="678.35" y="106.2" width="2.3" height="7.5" fill="#5a9b76"/><rect x="682.35" y="110.0" width="2.3" height="8.3" fill="#d6503c"/><rect x="686.35" y="115.3" width="2.3" height="20.0" fill="#d6503c"/><rect x="690.35" y="131.2" width="2.3" height="2.6" fill="#5a9b76"/><rect x="694.35" y="128.8" width="2.3" height="17.0" fill="#5a9b76"/><rect x="698.35" y="132.2" width="2.3" height="22.0" fill="#d6503c"/><rect x="702.35" y="129.2" width="2.3" height="26.1" fill="#5a9b76"/><rect x="706.35" y="128.0" width="2.3" height="7.8" fill="#d6503c"/><rect x="710.35" y="134.2" width="2.3" height="4.5" fill="#d6503c"/><rect x="714.35" y="147.2" width="2.3" height="12.0" fill="#d6503c"/><rect x="718.35" y="148.0" width="2.3" height="8.2" fill="#5a9b76"/><rect x="722.35" y="131.7" width="2.3" height="16.1" fill="#5a9b76"/><rect x="726.35" y="105.0" width="2.3" height="27.0" fill="#5a9b76"/><rect x="730.35" y="108.8" width="2.3" height="2.9" fill="#5a9b76"/><rect x="734.35" y="111.3" width="2.3" height="1.5" fill="#5a9b76"/><rect x="738.35" y="87.5" width="2.3" height="20.0" fill="#5a9b76"/><rect x="742.35" y="87.0" width="2.3" height="4.7" fill="#d6503c"/><rect x="746.35" y="93.0" width="2.3" height="1.7" fill="#5a9b76"/><rect x="750.35" y="88.0" width="2.3" height="6.7" fill="#5a9b76"/><rect x="754.35" y="75.8" width="2.3" height="18.9" fill="#5a9b76"/><rect x="758.35" y="70.8" width="2.3" height="23.9" fill="#d6503c"/><rect x="762.35" y="88.0" width="2.3" height="4.8" fill="#5a9b76"/><rect x="766.35" y="87.0" width="2.3" height="6.0" fill="#5a9b76"/><rect x="770.35" y="87.5" width="2.3" height="2.2" fill="#d6503c"/><rect x="774.35" y="73.3" width="2.3" height="12.2" fill="#d6503c"/><rect x="778.35" y="88.3" width="2.3" height="8.0" fill="#d6503c"/><rect x="782.35" y="92.2" width="2.3" height="2.5" fill="#5a9b76"/><rect x="786.35" y="87.0" width="2.3" height="5.5" fill="#5a9b76"/><rect x="790.35" y="90.0" width="2.3" height="15.8" fill="#d6503c"/><rect x="794.35" y="97.2" width="2.3" height="34.5" fill="#d6503c"/><rect x="798.35" y="135.0" width="2.3" height="10.0" fill="#d6503c"/><rect x="802.35" y="141.2" width="2.3" height="3.8" fill="#5a9b76"/><rect x="806.35" y="138.3" width="2.3" height="1.7" fill="#5a9b76"/><rect x="810.35" y="128.3" width="2.3" height="7.5" fill="#5a9b76"/><rect x="814.35" y="122.0" width="2.3" height="5.0" fill="#d6503c"/><rect x="818.35" y="93.3" width="2.3" height="30.4" fill="#5a9b76"/><rect x="822.35" y="94.2" width="2.3" height="30.3" fill="#d6503c"/><rect x="826.35" y="125.3" width="2.3" height="23.9" fill="#d6503c"/><rect x="830.35" y="149.2" width="2.3" height="2.5" fill="#5a9b76"/><rect x="834.35" y="143.3" width="2.3" height="7.5" fill="#d6503c"/><rect x="838.35" y="148.3" width="2.3" height="1.4" fill="#5a9b76"/><rect x="842.35" y="149.2" width="2.3" height="28.3" fill="#d6503c"/><rect x="846.35" y="173.3" width="2.3" height="14.2" fill="#d6503c"/><rect x="850.35" y="185.0" width="2.3" height="2.5" fill="#d6503c"/><rect x="854.35" y="183.3" width="2.3" height="15.4" fill="#d6503c"/><rect x="858.35" y="176.3" width="2.3" height="8.7" fill="#5a9b76"/><rect x="862.35" y="173.3" width="2.3" height="6.4" fill="#d6503c"/><rect x="866.35" y="179.2" width="2.3" height="4.6" fill="#d6503c"/><rect x="870.35" y="181.7" width="2.3" height="14.6" fill="#d6503c"/><rect x="874.35" y="178.0" width="2.3" height="15.3" fill="#5a9b76"/><rect x="878.35" y="175.5" width="2.3" height="4.2" fill="#5a9b76"/><rect x="882.35" y="174.2" width="2.3" height="1.3" fill="#5a9b76"/><rect x="886.35" y="179.2" width="2.3" height="5.3" fill="#d6503c"/><rect x="890.35" y="189.2" width="2.3" height="8.3" fill="#d6503c"/><rect x="894.35" y="190.5" width="2.3" height="1.2" fill="#5a9b76"/><rect x="898.35" y="189.2" width="2.3" height="9.5" fill="#d6503c"/><rect x="902.35" y="183.3" width="2.3" height="13.4" fill="#5a9b76"/><rect x="906.35" y="187.5" width="2.3" height="8.0" fill="#d6503c"/><rect x="910.35" y="202.5" width="2.3" height="11.2" fill="#d6503c"/><rect x="914.35" y="213.3" width="2.3" height="13.4" fill="#d6503c"/><rect x="918.35" y="229.2" width="2.3" height="14.1" fill="#d6503c"/><rect x="922.35" y="244.5" width="2.3" height="3.8" fill="#d6503c"/><rect x="926.35" y="252.2" width="2.3" height="19.5" fill="#d6503c"/><rect x="930.35" y="253.0" width="2.3" height="18.7" fill="#5a9b76"/><rect x="934.35" y="230.3" width="2.3" height="23.9" fill="#5a9b76"/><rect x="938.35" y="224.2" width="2.3" height="8.3" fill="#d6503c"/><rect x="942.35" y="214.2" width="2.3" height="17.5" fill="#d6503c"/><rect x="946.35" y="233.3" width="2.3" height="8.9" fill="#d6503c"/><rect x="951.35" y="205.8" width="2.3" height="24.2" fill="#5a9b76"/><rect x="955.35" y="208.3" width="2.3" height="26.7" fill="#d6503c"/><rect x="959.35" y="207.0" width="2.3" height="22.7" fill="#5a9b76"/><rect x="963.35" y="210.0" width="2.3" height="11.7" fill="#d6503c"/><rect x="967.35" y="197.8" width="2.3" height="25.0" fill="#5a9b76"/><rect x="971.35" y="173.0" width="2.3" height="1.7" fill="#d6503c"/><rect x="975.35" y="185.3" width="2.3" height="25.5" fill="#d6503c"/><rect x="979.35" y="206.2" width="2.3" height="20.5" fill="#d6503c"/><rect x="983.35" y="205.8" width="2.3" height="17.0" fill="#5a9b76"/><rect x="987.35" y="209.2" width="2.3" height="15.5" fill="#d6503c"/><rect x="991.35" y="212.0" width="2.3" height="10.8" fill="#d6503c"/><rect x="995.35" y="215.5" width="2.3" height="2.0" fill="#d6503c"/><rect x="999.35" y="206.2" width="2.3" height="5.5" fill="#5a9b76"/><rect x="1003.35" y="199.2" width="2.3" height="8.0" fill="#5a9b76"/><rect x="1007.35" y="198.3" width="2.3" height="2.2" fill="#d6503c"/><rect x="1011.35" y="175.0" width="2.3" height="21.7" fill="#5a9b76"/><rect x="1015.35" y="167.2" width="2.3" height="10.3" fill="#5a9b76"/><rect x="1019.35" y="153.3" width="2.3" height="8.0" fill="#5a9b76"/><rect x="1023.35" y="152.5" width="2.3" height="17.8" fill="#d6503c"/><rect x="1027.35" y="180.5" width="2.3" height="5.3" fill="#d6503c"/><rect x="1031.35" y="180.3" width="2.3" height="2.2" fill="#d6503c"/><rect x="1035.35" y="181.3" width="2.3" height="14.0" fill="#d6503c"/><rect x="1039.35" y="194.7" width="2.3" height="10.8" fill="#d6503c"/><rect x="1043.35" y="200.3" width="2.3" height="29.4" fill="#d6503c"/><rect x="1047.35" y="248.3" width="2.3" height="22.2" fill="#d6503c"/><rect x="1051.35" y="266.3" width="2.3" height="11.2" fill="#d6503c"/><rect x="1055.35" y="262.2" width="2.3" height="20.3" fill="#5a9b76"/><rect x="1059.35" y="248.7" width="2.3" height="8.0" fill="#5a9b76"/><rect x="1063.35" y="234.2" width="2.3" height="17.3" fill="#5a9b76"/><rect x="1067.35" y="202.0" width="2.3" height="14.7" fill="#d6503c"/><rect x="1071.35" y="199.2" width="2.3" height="21.3" fill="#5a9b76"/><rect x="1075.35" y="198.3" width="2.3" height="28.9" fill="#d6503c"/><rect x="1079.35" y="207.0" width="2.3" height="22.5" fill="#5a9b76"/><rect x="1083.35" y="209.5" width="2.3" height="13.0" fill="#d6503c"/><rect x="1087.35" y="243.3" width="2.3" height="13.0" fill="#d6503c"/><rect x="1091.35" y="258.3" width="2.3" height="29.7" fill="#d6503c"/><rect x="1095.35" y="285.8" width="2.3" height="1.0" fill="#5a9b76"/><rect x="1099.35" y="278.3" width="2.3" height="29.2" fill="#d6503c"/><rect x="1103.35" y="301.3" width="2.3" height="2.4" fill="#d6503c"/><rect x="1107.35" y="289.5" width="2.3" height="5.0" fill="#d6503c"/><rect x="1111.35" y="341.3" width="2.3" height="21.2" fill="#d6503c"/><rect x="1115.35" y="356.2" width="2.3" height="13.3" fill="#d6503c"/><rect x="1119.35" y="366.2" width="2.3" height="4.3" fill="#d6503c"/><rect x="1123.35" y="378.3" width="2.3" height="33.4" fill="#d6503c"/><rect x="1127.35" y="398.3" width="2.3" height="11.4" fill="#5a9b76"/><rect x="1131.35" y="398.0" width="2.3" height="34.5" fill="#d6503c"/><rect x="1135.35" y="428.0" width="2.3" height="7.3" fill="#d6503c"/><rect x="1139.35" y="418.3" width="2.3" height="9.5" fill="#5a9b76"/><rect x="1143.35" y="420.3" width="2.3" height="23.4" fill="#d6503c"/><rect x="1147.35" y="440.3" width="2.3" height="6.4" fill="#5a9b76"/><rect x="1151.35" y="435.3" width="2.3" height="4.2" fill="#d6503c"/><rect x="1155.35" y="439.2" width="2.3" height="17.5" fill="#d6503c"/><rect x="1159.35" y="446.2" width="2.3" height="4.3" fill="#d6503c"/><rect x="1163.35" y="445.0" width="2.3" height="20.8" fill="#d6503c"/><rect x="1167.35" y="464.2" width="2.3" height="2.5" fill="#5a9b76"/><rect x="1171.35" y="469.2" width="2.3" height="4.5" fill="#d6503c"/><rect x="1175.35" y="453.3" width="2.3" height="1.2" fill="#5a9b76"/><rect x="1179.35" y="452.0" width="2.3" height="19.7" fill="#d6503c"/><rect x="1183.35" y="469.7" width="2.3" height="18.3" fill="#d6503c"/><rect x="1187.35" y="492.2" width="2.3" height="3.6" fill="#d6503c"/><rect x="1191.35" y="492.2" width="2.3" height="1.5" fill="#5a9b76"/><rect x="1195.35" y="507.5" width="2.3" height="3.3" fill="#d6503c"/><rect x="1199.35" y="508.3" width="2.3" height="1.4" fill="#5a9b76"/><rect x="1203.35" y="503.3" width="2.3" height="32.2" fill="#d6503c"/><rect x="1207.35" y="529.2" width="2.3" height="7.5" fill="#d6503c"/><rect x="1211.35" y="537.5" width="2.3" height="5.8" fill="#d6503c"/><rect x="1215.35" y="535.5" width="2.3" height="4.5" fill="#5a9b76"/><rect x="1219.35" y="518.0" width="2.3" height="13.7" fill="#5a9b76"/><rect x="1223.35" y="518.0" width="2.3" height="25.3" fill="#d6503c"/><rect x="1227.35" y="539.2" width="2.3" height="1.0" fill="#d6503c"/><rect x="1231.35" y="526.2" width="2.3" height="16.3" fill="#5a9b76"/><rect x="1235.35" y="518.3" width="2.3" height="21.7" fill="#d6503c"/><rect x="1239.35" y="520.0" width="2.3" height="17.5" fill="#5a9b76"/><rect x="1243.35" y="515.3" width="2.3" height="18.0" fill="#d6503c"/><rect x="1247.35" y="533.0" width="2.3" height="7.0" fill="#d6503c"/><rect x="1251.35" y="542.2" width="2.3" height="19.1" fill="#d6503c"/><rect x="1255.35" y="568.3" width="2.3" height="20.4" fill="#d6503c"/><rect x="1259.35" y="569.2" width="2.3" height="17.5" fill="#5a9b76"/><rect x="1263.35" y="550.5" width="2.3" height="20.0" fill="#5a9b76"/><rect x="1267.35" y="514.2" width="2.3" height="12.0" fill="#5a9b76"/><rect x="1271.35" y="495.0" width="2.3" height="5.8" fill="#5a9b76"/><rect x="1275.35" y="494.5" width="2.3" height="2.2" fill="#5a9b76"/><rect x="1279.35" y="484.2" width="2.3" height="7.5" fill="#5a9b76"/><rect x="1283.35" y="485.5" width="2.3" height="4.2" fill="#d6503c"/><rect x="1287.35" y="462.5" width="2.3" height="25.3" fill="#5a9b76"/><rect x="1291.35" y="483.3" width="2.3" height="27.2" fill="#d6503c"/><rect x="1295.35" y="495.8" width="2.3" height="9.7" fill="#5a9b76"/><rect x="1299.35" y="499.2" width="2.3" height="11.6" fill="#d6503c"/><rect x="1303.35" y="507.0" width="2.3" height="9.7" fill="#d6503c"/><rect x="1307.35" y="523.3" width="2.3" height="9.2" fill="#d6503c"/><rect x="1311.35" y="510.0" width="2.3" height="22.0" fill="#5a9b76"/><rect x="1315.35" y="509.5" width="2.3" height="6.0" fill="#d6503c"/><rect x="1319.35" y="514.2" width="2.3" height="17.5" fill="#d6503c"/></g>
</g>
<g clip-path="url(#rsi)">
<path d="M13.3 698.8 C15.0 698.9 19.1 698.6 23.3 699.2 C27.5 699.8 33.6 701.0 38.3 702.2 C43.0 703.4 47.2 705.0 51.7 706.3 C56.2 707.6 60.8 708.7 65.0 710.0 C69.2 711.3 72.8 713.4 76.7 714.2 C80.6 715.0 83.9 715.2 88.3 714.7 C92.7 714.2 98.3 712.2 103.3 711.3 C108.3 710.4 112.7 710.2 118.3 709.2 C123.9 708.2 131.4 706.5 136.7 705.0 C142.0 703.5 145.0 701.5 150.0 700.0 C155.0 698.5 161.7 697.0 166.7 695.8 C171.7 694.5 175.6 693.9 180.0 692.5 C184.4 691.1 188.9 689.0 193.3 687.5 C197.8 686.0 202.2 684.5 206.7 683.7 C211.1 683.0 215.6 683.1 220.0 683.0 C224.4 682.9 228.9 683.0 233.3 683.3 C237.8 683.6 242.2 684.3 246.7 685.0 C251.1 685.7 256.1 687.0 260.0 687.5 C263.9 688.0 266.9 688.6 270.0 688.3 C273.1 688.0 275.2 687.0 278.3 685.8 C281.4 684.5 284.4 681.6 288.3 680.8 C292.2 680.0 297.2 681.1 301.7 681.2 C306.1 681.4 310.3 681.8 315.0 681.7 C319.7 681.6 325.3 681.3 330.0 680.8 C334.7 680.3 338.3 680.0 343.3 678.7 C348.3 677.4 354.4 675.0 360.0 673.0 C365.6 671.0 371.1 669.0 376.7 666.7 C382.2 664.5 388.3 661.7 393.3 659.5 C398.3 657.3 403.4 654.8 406.7 653.7 C410.0 652.6 410.5 652.7 413.3 652.8 C416.1 652.9 419.7 653.4 423.3 654.2 C426.9 655.0 431.7 656.2 435.0 657.5 C438.3 658.8 439.7 660.6 443.3 662.0 C446.9 663.4 452.8 664.3 456.7 665.8 C460.6 667.3 463.4 669.5 466.7 670.8 C470.0 672.0 472.3 672.7 476.7 673.3 C481.1 673.9 488.3 673.9 493.3 674.2 C498.3 674.5 502.2 674.6 506.7 675.0 C511.1 675.4 516.1 676.3 520.0 676.3 C523.9 676.3 526.1 675.2 530.0 675.0 C533.9 674.8 538.6 674.8 543.3 675.0 C548.0 675.2 554.4 675.5 558.3 676.3 C562.2 677.1 563.1 678.0 566.7 680.0 C570.3 682.0 576.4 686.0 580.0 688.0 C583.6 690.0 584.4 689.7 588.3 692.0 C592.2 694.3 599.1 699.1 603.3 702.0 C607.5 704.9 610.2 707.5 613.3 709.2 C616.4 711.0 618.9 711.8 621.7 712.5 C624.5 713.2 627.0 713.4 630.0 713.3 C633.0 713.2 636.7 712.5 640.0 711.7 C643.3 710.9 646.7 709.7 650.0 708.3 C653.3 706.9 656.7 705.2 660.0 703.3 C663.3 701.4 666.7 699.3 670.0 696.7 C673.3 694.1 676.7 689.9 680.0 687.5 C683.3 685.1 686.1 683.8 690.0 682.2 C693.9 680.6 699.4 678.7 703.3 678.0 C707.2 677.3 709.4 677.7 713.3 678.0 C717.2 678.3 722.8 679.5 726.7 680.0 C730.6 680.5 732.8 681.3 736.7 681.3 C740.6 681.2 746.1 680.4 750.0 679.7 C753.9 679.0 756.7 677.8 760.0 677.0 C763.3 676.2 766.7 675.2 770.0 674.7 C773.3 674.2 776.7 673.7 780.0 673.7 C783.3 673.7 786.7 673.7 790.0 674.7 C793.3 675.8 796.1 677.8 800.0 680.0 C803.9 682.2 808.8 686.0 813.3 688.0 C817.8 690.0 822.5 690.2 826.7 691.7 C830.9 693.2 834.4 695.3 838.3 697.0 C842.2 698.7 845.8 701.0 850.0 702.0 C854.2 703.0 858.8 702.3 863.3 703.3 C867.8 704.3 872.2 707.0 876.7 707.8 C881.2 708.6 885.8 708.0 890.0 708.0 C894.2 708.0 898.4 708.1 901.7 707.8 C905.0 707.5 907.0 706.3 910.0 706.3 C913.0 706.3 916.1 707.2 920.0 708.0 C923.9 708.8 929.4 710.5 933.3 711.2 C937.2 711.9 940.0 712.1 943.3 712.0 C946.6 711.9 949.7 711.0 953.3 710.5 C956.9 710.0 961.4 710.0 965.0 708.8 C968.6 707.6 971.4 705.1 975.0 703.3 C978.6 701.5 983.1 699.4 986.7 698.0 C990.3 696.6 993.4 695.8 996.7 694.7 C1000.0 693.7 1002.3 692.9 1006.7 691.7 C1011.1 690.5 1019.1 688.2 1023.3 687.5 C1027.5 686.8 1028.4 687.4 1031.7 687.5 C1035.0 687.6 1039.1 687.2 1043.3 688.0 C1047.5 688.8 1052.8 691.2 1056.7 692.2 C1060.6 693.2 1063.4 693.4 1066.7 694.2 C1070.0 695.0 1073.7 696.3 1076.7 697.0 C1079.8 697.7 1081.7 697.5 1085.0 698.3 C1088.3 699.1 1092.8 701.1 1096.7 701.7 C1100.6 702.3 1105.0 701.4 1108.3 701.7 C1111.6 702.0 1113.6 702.5 1116.7 703.7 C1119.8 705.0 1123.4 707.3 1126.7 709.2 C1130.0 711.1 1133.4 713.4 1136.7 715.0 C1140.0 716.6 1142.8 717.6 1146.7 718.7 C1150.6 719.8 1155.6 720.9 1160.0 721.7 C1164.4 722.5 1169.1 723.4 1173.3 723.7 C1177.5 724.0 1181.1 723.3 1185.0 723.3 C1188.9 723.3 1192.5 723.4 1196.7 723.7 C1200.9 724.0 1205.8 724.7 1210.0 725.0 C1214.2 725.3 1217.5 725.3 1221.7 725.3 C1225.9 725.2 1230.8 725.2 1235.0 724.7 C1239.2 724.2 1243.1 722.8 1246.7 722.2 C1250.3 721.6 1253.7 722.0 1256.7 721.3 C1259.8 720.6 1262.2 719.3 1265.0 718.0 C1267.8 716.7 1270.8 714.6 1273.3 713.3 C1275.8 712.0 1277.2 711.7 1280.0 710.0 C1282.8 708.3 1286.7 705.0 1290.0 703.3 C1293.3 701.6 1296.7 701.0 1300.0 699.7 C1303.3 698.5 1307.2 696.8 1310.0 695.8 C1312.8 694.8 1314.9 694.2 1316.7 693.7 C1318.5 693.2 1320.1 693.1 1320.8 693.0" fill="none" stroke="#c77bdb" stroke-width="1.25" stroke-linejoin="round"/>
<path d="M13.3 696.7 L19.2 689.2 L23.3 702.5 L29.2 710.8 L34.2 715.8 L39.2 713.3 L43.3 720.3 L50.8 715.5 L54.2 715.0 L59.2 711.3 L63.3 714.2 L66.7 715.0 L70.8 712.8 L79.2 715.8 L83.3 710.8 L86.7 710.0 L90.8 706.2 L94.2 712.5 L99.2 698.8 L103.3 700.8 L110.8 713.3 L119.2 703.0 L123.3 705.8 L126.7 700.8 L130.8 702.0 L135.0 699.2 L139.2 695.0 L143.3 688.3 L146.7 677.0 L150.8 689.2 L155.8 687.0 L159.2 688.3 L166.7 702.0 L170.8 696.7 L175.0 693.3 L179.2 692.5 L185.0 683.3 L190.8 672.5 L195.5 668.0 L199.2 672.5 L203.0 662.0 L207.5 675.0 L211.7 683.3 L215.8 691.7 L219.2 691.2 L223.3 697.5 L226.7 698.7 L230.8 698.8 L235.8 691.7 L240.0 688.0 L243.0 679.2 L246.7 683.3 L250.0 685.8 L254.2 684.2 L259.2 679.2 L263.3 677.5 L266.7 684.2 L270.8 687.0 L275.0 680.8 L279.2 675.0 L283.3 677.0 L286.7 669.7 L290.8 678.3 L295.8 688.3 L299.2 688.0 L306.7 681.7 L310.8 684.7 L315.5 688.0 L323.0 674.7 L327.5 679.7 L330.0 678.7 L335.8 670.0 L339.2 668.7 L346.7 660.8 L350.8 664.2 L355.3 672.5 L359.2 665.8 L366.7 662.0 L370.8 662.0 L375.0 655.3 L379.2 655.0 L383.3 649.7 L387.0 653.7 L391.7 648.0 L395.8 646.7 L406.7 635.8 L412.0 662.5 L415.3 668.7 L419.2 668.7 L423.3 681.3 L431.7 675.0 L435.3 667.5 L439.2 679.2 L443.3 673.3 L448.3 668.3 L459.2 655.3 L466.7 690.8 L475.8 682.5 L480.0 680.8 L483.3 682.0 L490.8 674.2 L495.0 673.0 L499.2 674.2 L503.0 678.7 L506.7 670.0 L510.8 669.7 L515.3 667.5 L522.5 674.2 L526.7 687.5 L531.7 678.7 L535.8 683.0 L539.7 682.5 L543.3 670.3 L548.3 671.2 L552.0 683.7 L555.8 680.0 L560.0 683.3 L563.3 688.0 L568.0 708.0 L572.5 704.2 L575.8 703.8 L580.0 710.3 L583.3 711.7 L587.5 710.0 L591.7 716.7 L595.3 716.3 L600.0 710.8 L607.5 711.3 L612.0 724.2 L615.8 717.0 L619.2 719.2 L623.3 719.2 L628.0 702.5 L631.7 706.3 L635.8 699.7 L639.2 703.3 L643.3 693.3 L647.5 694.7 L655.8 681.7 L659.2 685.0 L663.3 675.3 L667.5 677.0 L675.0 668.0 L679.2 665.3 L688.3 679.2 L695.0 678.0 L699.2 688.0 L703.3 680.0 L711.7 683.8 L715.8 692.5 L720.0 686.7 L728.0 673.7 L732.0 675.8 L735.8 676.7 L739.7 668.7 L748.3 672.0 L755.0 665.8 L759.2 677.0 L763.3 675.3 L766.7 674.7 L771.7 676.3 L775.8 674.2 L779.7 681.7 L784.2 680.0 L788.3 677.5 L795.3 701.7 L799.2 706.7 L804.2 705.0 L808.3 703.0 L812.5 697.0 L815.8 696.3 L819.5 679.2 L823.3 692.5 L828.0 703.0 L835.8 703.7 L839.7 702.5 L845.0 712.0 L848.3 714.5 L851.7 714.2 L855.8 717.5 L860.0 706.7 L864.2 707.0 L868.3 708.7 L872.0 712.5 L875.8 703.3 L879.2 701.7 L884.2 701.7 L888.3 705.8 L892.0 710.5 L895.8 706.3 L899.7 709.2 L904.2 700.8 L908.3 705.5 L911.7 711.7 L920.0 720.0 L924.2 721.7 L928.0 726.3 L931.7 718.3 L935.8 705.8 L940.8 706.7 L944.2 706.2 L948.3 710.0 L951.7 692.5 L955.8 702.5 L960.5 691.7 L964.7 696.7 L971.7 680.0 L975.8 693.0 L980.8 697.8 L984.2 691.3 L988.7 697.0 L993.3 695.8 L998.3 692.5 L1004.2 688.0 L1008.3 688.3 L1012.5 678.7 L1020.8 672.0 L1024.2 680.0 L1028.3 687.5 L1032.0 686.3 L1035.8 692.0 L1040.3 695.3 L1045.0 705.0 L1048.3 713.3 L1051.7 715.0 L1055.8 708.7 L1060.8 703.7 L1065.0 697.5 L1071.7 686.3 L1075.8 695.0 L1080.3 688.8 L1084.2 694.2 L1087.5 701.7 L1092.0 709.7 L1095.8 709.2 L1100.8 712.8 L1104.2 711.3 L1108.0 708.3 L1112.0 720.0 L1115.8 720.8 L1120.0 720.8 L1124.5 725.3 L1128.3 722.0 L1132.5 725.8 L1137.0 725.8 L1140.8 721.2 L1145.0 724.2 L1151.7 722.5 L1156.7 725.0 L1160.8 722.5 L1164.2 724.7 L1168.3 724.7 L1172.0 725.8 L1176.7 718.0 L1185.0 724.2 L1189.2 724.7 L1192.5 723.3 L1196.7 725.8 L1200.8 725.3 L1204.7 729.2 L1211.7 730.3 L1216.7 727.0 L1220.3 719.7 L1224.2 723.7 L1227.5 723.3 L1231.7 715.8 L1236.3 718.7 L1240.8 710.8 L1245.0 713.7 L1248.7 715.8 L1256.7 723.7 L1260.8 716.7 L1264.2 710.0 L1268.3 695.8 L1272.0 690.0 L1276.7 689.7 L1280.8 686.3 L1284.7 688.3 L1288.0 678.7 L1292.0 695.8 L1296.7 692.0 L1300.8 696.7 L1304.2 697.5 L1308.0 701.7 L1313.0 694.7 L1316.7 695.8 L1321.3 701.2" fill="none" stroke="#a24fc6" stroke-width="2.5" stroke-linejoin="round" stroke-linecap="round"/>
</g>
<rect x="13.0" y="34.0" width="1536.0" height="737.5" fill="none" stroke="#e3e5ee" stroke-width="1.6"/>
<line x1="13.0" y1="629.5" x2="1549.0" y2="629.5" stroke="#e3e5ee" stroke-width="1.4"/>
<line x1="1472.5" y1="34.0" x2="1472.5" y2="771.5" stroke="#3c3f4a" stroke-width="1.2"/>
<line x1="13.0" y1="737.5" x2="1549.0" y2="737.5" stroke="#3c3f4a" stroke-width="1.2"/>
<text x="13.3" y="25.0" font-size="14.5" fill="#131722" text-anchor="start" font-weight="normal" textLength="503.0" lengthAdjust="spacingAndGlyphs" >BrucePowersCMT published on TradingView.com, Mar 15, 2023 14:53 UTC-4</text>
<text x="23.5" y="59.0" font-size="14" fill="#57585e" text-anchor="start" font-weight="normal" textLength="611.0" lengthAdjust="spacingAndGlyphs" >HENRY HUB NATURAL GAS FUTURES (CONTINUOUS: NEXT CONTRACT IN FRONT), 1D, NYMEX</text>
<text x="644.3" y="59" font-size="14" textLength="46.1" lengthAdjust="spacingAndGlyphs"><tspan fill="#57585e">O</tspan><tspan fill="#6a2b2b">2.696</tspan></text>
<text x="700.5" y="59" font-size="14" textLength="45.8" lengthAdjust="spacingAndGlyphs"><tspan fill="#57585e">H</tspan><tspan fill="#6a2b2b">2.710</tspan></text>
<text x="756.7" y="59" font-size="14" textLength="42.6" lengthAdjust="spacingAndGlyphs"><tspan fill="#57585e">L</tspan><tspan fill="#6a2b2b">2.499</tspan></text>
<text x="810.0" y="59" font-size="14" textLength="44.6" lengthAdjust="spacingAndGlyphs"><tspan fill="#57585e">C</tspan><tspan fill="#6a2b2b">2.564</tspan></text>
<text x="865.6" y="59.0" font-size="14" fill="#6a2b2b" text-anchor="start" font-weight="normal" textLength="104.5" lengthAdjust="spacingAndGlyphs" >−0.126 (−4.68%)</text>
<text x="23.5" y="80.0" font-size="14" fill="#57585e" text-anchor="start" font-weight="normal" textLength="182.0" lengthAdjust="spacingAndGlyphs" >EMA (200, close, 0, SMA, 5)</text>
<text x="216.0" y="80.0" font-size="14" fill="#2962ff" text-anchor="start" font-weight="normal" textLength="36.3" lengthAdjust="spacingAndGlyphs" >5.082</text>
<text x="23.5" y="101.0" font-size="14" fill="#57585e" text-anchor="start" font-weight="normal" textLength="174.2" lengthAdjust="spacingAndGlyphs" >EMA (34, close, 0, SMA, 5)</text>
<text x="207.3" y="101.0" font-size="14" fill="#ff9800" text-anchor="start" font-weight="normal" textLength="37.0" lengthAdjust="spacingAndGlyphs" >2.880</text>
<text x="23.0" y="654.6" font-size="14" fill="#57585e" text-anchor="start" font-weight="normal" textLength="175.5" lengthAdjust="spacingAndGlyphs" >RSI (14, close, SMA, 14, 2)</text>
<text x="207.9" y="654.6" font-size="14" fill="#b55fd0" text-anchor="start" font-weight="normal" textLength="36.7" lengthAdjust="spacingAndGlyphs" >43.66</text>
<text x="254.0" y="654.6" font-size="14" fill="#c368d6" text-anchor="start" font-weight="normal" textLength="36.7" lengthAdjust="spacingAndGlyphs" >48.80</text>
<text x="299.6" y="654.6" font-size="14" fill="#57585e" text-anchor="start" font-weight="normal" textLength="9.0" lengthAdjust="spacingAndGlyphs" >ø</text>
<text x="319.3" y="654.6" font-size="14" fill="#57585e" text-anchor="start" font-weight="normal" textLength="9.0" lengthAdjust="spacingAndGlyphs" >ø</text>
<text x="1484.5" y="55.4" font-size="14" fill="#57585e" text-anchor="start" font-weight="normal" textLength="24.0" lengthAdjust="spacingAndGlyphs" >USD</text>
<text x="1484.5" y="77.9" font-size="14" fill="#57585e" text-anchor="start" font-weight="normal" textLength="41.0" lengthAdjust="spacingAndGlyphs" >MMBtu</text>
<text x="1484.5" y="104.9" font-size="14" fill="#57585e" text-anchor="start" font-weight="normal" textLength="34.0" lengthAdjust="spacingAndGlyphs" >9.000</text>
<text x="1484.5" y="145.2" font-size="14" fill="#57585e" text-anchor="start" font-weight="normal" textLength="34.0" lengthAdjust="spacingAndGlyphs" >8.000</text>
<text x="1484.5" y="190.9" font-size="14" fill="#57585e" text-anchor="start" font-weight="normal" textLength="34.0" lengthAdjust="spacingAndGlyphs" >7.000</text>
<text x="1484.5" y="243.9" font-size="14" fill="#57585e" text-anchor="start" font-weight="normal" textLength="34.0" lengthAdjust="spacingAndGlyphs" >6.000</text>
<text x="1484.5" y="306.9" font-size="14" fill="#57585e" text-anchor="start" font-weight="normal" textLength="34.0" lengthAdjust="spacingAndGlyphs" >5.000</text>
<text x="1484.5" y="350.9" font-size="14" fill="#57585e" text-anchor="start" font-weight="normal" textLength="34.0" lengthAdjust="spacingAndGlyphs" >4.400</text>
<text x="1484.5" y="400.9" font-size="14" fill="#57585e" text-anchor="start" font-weight="normal" textLength="34.0" lengthAdjust="spacingAndGlyphs" >3.800</text>
<text x="1484.5" y="481.9" font-size="14" fill="#57585e" text-anchor="start" font-weight="normal" textLength="34.0" lengthAdjust="spacingAndGlyphs" >3.000</text>
<text x="1484.5" y="518.9" font-size="14" fill="#57585e" text-anchor="start" font-weight="normal" textLength="34.0" lengthAdjust="spacingAndGlyphs" >2.700</text>
<text x="1484.5" y="559.3" font-size="14" fill="#57585e" text-anchor="start" font-weight="normal" textLength="34.0" lengthAdjust="spacingAndGlyphs" >2.400</text>
<text x="1484.5" y="597.1" font-size="14" fill="#57585e" text-anchor="start" font-weight="normal" textLength="34.0" lengthAdjust="spacingAndGlyphs" >2.150</text>
<text x="1484.5" y="660.2" font-size="14" fill="#57585e" text-anchor="start" font-weight="normal" textLength="34.0" lengthAdjust="spacingAndGlyphs" >75.00</text>
<text x="1484.5" y="697.1" font-size="14" fill="#57585e" text-anchor="start" font-weight="normal" textLength="34.0" lengthAdjust="spacingAndGlyphs" >50.00</text>
<text x="1484.5" y="733.8" font-size="14" fill="#57585e" text-anchor="start" font-weight="normal" textLength="34.0" lengthAdjust="spacingAndGlyphs" >25.00</text>
<text x="22.7" y="758.5" font-size="13.3" fill="#57585e" text-anchor="middle" font-weight="normal" textLength="13.5" lengthAdjust="spacingAndGlyphs" >29</text>
<text x="119.0" y="758.5" font-size="13.3" fill="#454851" text-anchor="middle" font-weight="bold" textLength="30.7" lengthAdjust="spacingAndGlyphs" >2022</text>
<text x="274.7" y="758.5" font-size="13.3" fill="#57585e" text-anchor="middle" font-weight="normal" textLength="21.7" lengthAdjust="spacingAndGlyphs" >Mar</text>
<text x="447.3" y="758.5" font-size="13.3" fill="#57585e" text-anchor="middle" font-weight="normal" textLength="24.0" lengthAdjust="spacingAndGlyphs" >May</text>
<text x="616.0" y="758.5" font-size="13.3" fill="#57585e" text-anchor="middle" font-weight="normal" textLength="17.0" lengthAdjust="spacingAndGlyphs" >Jul</text>
<text x="788.0" y="758.5" font-size="13.3" fill="#57585e" text-anchor="middle" font-weight="normal" textLength="22.0" lengthAdjust="spacingAndGlyphs" >Sep</text>
<text x="956.0" y="758.5" font-size="13.3" fill="#57585e" text-anchor="middle" font-weight="normal" textLength="23.5" lengthAdjust="spacingAndGlyphs" >Nov</text>
<text x="1124.5" y="758.5" font-size="13.3" fill="#454851" text-anchor="middle" font-weight="bold" textLength="30.7" lengthAdjust="spacingAndGlyphs" >2023</text>
<text x="1281.0" y="758.5" font-size="13.3" fill="#57585e" text-anchor="middle" font-weight="normal" textLength="21.7" lengthAdjust="spacingAndGlyphs" >Mar</text>
<text x="1449.0" y="758.5" font-size="13.3" fill="#57585e" text-anchor="middle" font-weight="normal" textLength="24.0" lengthAdjust="spacingAndGlyphs" >May</text>
<text transform="translate(1385.3,460.7) scale(1,1.52)" font-size="16" font-weight="bold" fill="#ba68c8" stroke="#ba68c8" stroke-width="0.5" textLength="19.4" lengthAdjust="spacingAndGlyphs">??</text>
<rect x="1472.5" y="271.2" width="54" height="18.4" rx="2" fill="#ba68c8"/>
<text x="1484.5" y="285.5" font-size="13.5" fill="#fff" text-anchor="start" font-weight="normal" textLength="34.5" lengthAdjust="spacingAndGlyphs" stroke="#fff" stroke-width="0.45">5.324</text>
<rect x="1472.5" y="402" width="54" height="19" rx="2" fill="#e65100"/>
<text x="1484.5" y="416.6" font-size="13.5" fill="#fff" text-anchor="start" font-weight="normal" textLength="34.5" lengthAdjust="spacingAndGlyphs" stroke="#fff" stroke-width="0.45">3.449</text>
<rect x="1472.5" y="421" width="54" height="18.7" rx="2" fill="#ba68c8"/>
<text x="1484.5" y="435.2" font-size="13.5" fill="#fff" text-anchor="start" font-weight="normal" textLength="34.5" lengthAdjust="spacingAndGlyphs" stroke="#fff" stroke-width="0.45">3.440</text>
<rect x="1403.2" y="522" width="67.7" height="18.4" rx="2" fill="#d9543f"/>
<text x="1409.8" y="536.3" font-size="13.5" fill="#fff" text-anchor="start" font-weight="normal" textLength="54.5" lengthAdjust="spacingAndGlyphs" stroke="#fff" stroke-width="0.35">NGK2023</text>
<rect x="1472.5" y="522" width="73.4" height="34.5" rx="2" fill="#d9543f"/>
<text x="1484.5" y="537.0" font-size="13.5" fill="#fff" text-anchor="start" font-weight="normal" textLength="34.5" lengthAdjust="spacingAndGlyphs" stroke="#fff" stroke-width="0.45">2.564</text>
<text x="1484.5" y="552.8" font-size="13.5" fill="#f8e3df" text-anchor="start" font-weight="normal" textLength="53.5" lengthAdjust="spacingAndGlyphs" stroke="#f8e3df" stroke-width="0.3">02:16:14</text>
<g fill="#131722"><path d="M13 788 H22.7 V799.8 H17.9 V792.4 H13 Z"/><circle cx="26.9" cy="790.4" r="2.8"/><path d="M32.6 788 H37.4 L32.3 799.8 H26.8 Z"/></g>
<text x="42.0" y="799.8" font-size="15.8" fill="#1e222d" text-anchor="start" font-weight="normal" textLength="88.0" lengthAdjust="spacingAndGlyphs" >TradingView</text>
</svg></body></html>
